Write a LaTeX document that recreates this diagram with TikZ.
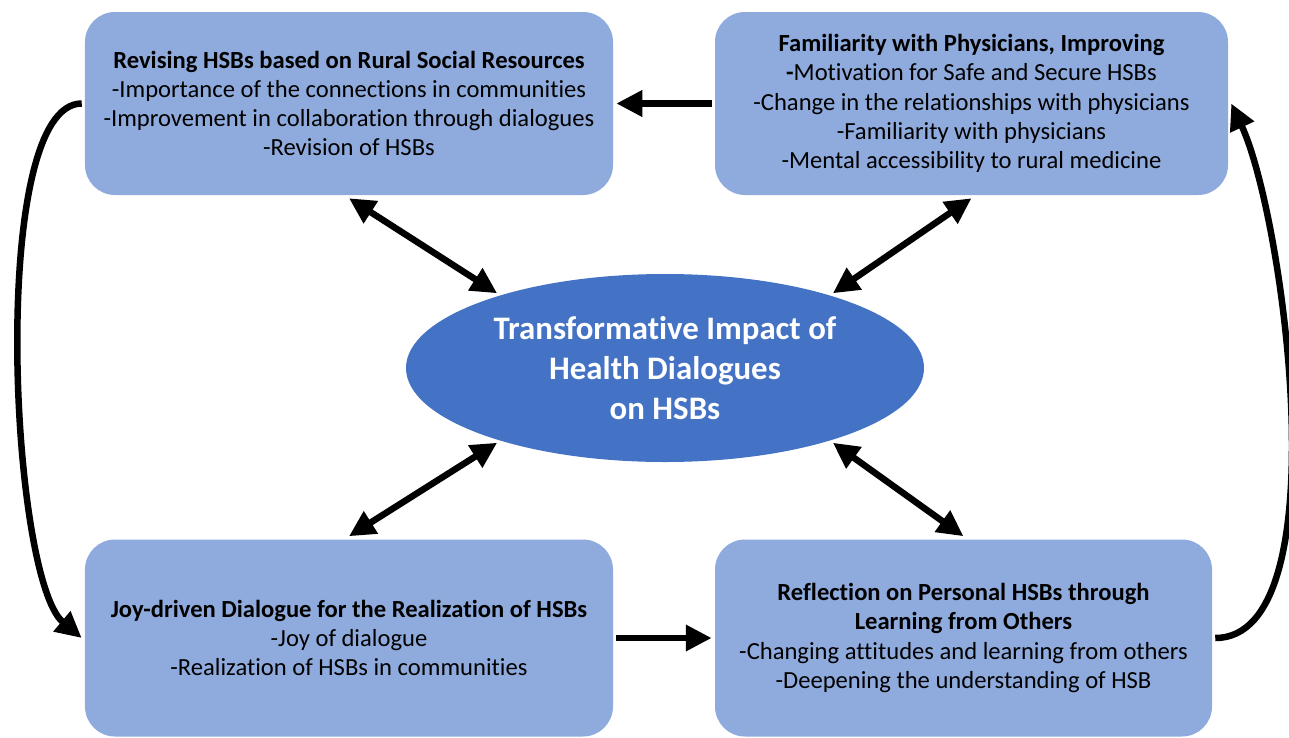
\documentclass[tikz,border=0pt]{standalone}
\usepackage{fontspec}
\setmainfont{Carlito}[Ligatures=NoCommon]
\usetikzlibrary{arrows.meta, shapes.geometric}
\definecolor{themeBlue}{HTML}{8FAADC}
\definecolor{coreBlue}{HTML}{4472C4}
\tikzset{%
  >={Triangle[width=5mm,length=5.2mm]},
  % Specifications for style of nodes:
            base/.style = {rectangle, rounded corners=6mm, fill=themeBlue,
                           draw=none, align=center, inner sep=0pt,
                           font=\fontsize{14}{16.6}\selectfont},
        topTheme/.style = {base, minimum height=3.66cm},
     bottomTheme/.style = {base, minimum height=3.94cm},
          impact/.style = {ellipse, fill=coreBlue, draw=none, inner sep=0pt,
                           minimum width=10.36cm, minimum height=3.76cm,
                           align=center, text=white,
                           font=\fontsize{18.7}{22.8}\selectfont\bfseries},
}

\begin{document}
\begin{tikzpicture}[
    ->,
    line width=3.7pt,
    node distance=6cm]

  \useasboundingbox (-13.3,7.36) rectangle (12.48,-7.38);

  \node(impact)       [impact] at (0,0)                         {Transformative Impact of\\
                                                                  Health Dialogues\\
                                                                  on HSBs};

  \node(revising)     [topTheme, left of=impact, xshift=-0.32cm, yshift=5.29cm,
                       minimum width=10.56cm]                   {\textbf{Revising HSBs based on Rural Social Resources}\\
                                                                  -Importance of the connections in communities\\
                                                                  -Improvement in collaboration through dialogues\\
                                                                  -Revision of HSBs};

  \node(familiarity)  [topTheme, right of=impact, xshift=0.13cm, yshift=5.29cm,
                       minimum width=10.26cm]                   {\textbf{Familiarity with Physicians, Improving}\\
                                                                  \textbf{-}Motivation for Safe and Secure HSBs\\
                                                                  -Change in the relationships with physicians\\
                                                                  -Familiarity with physicians\\
                                                                  -Mental accessibility to rural medicine};

  \node(joyDialogue)  [bottomTheme, left of=impact, xshift=-0.32cm, yshift=-5.4cm,
                       minimum width=10.56cm]                   {\textbf{Joy-driven Dialogue for the Realization of HSBs}\\
                                                                  -Joy of dialogue\\
                                                                  -Realization of HSBs in communities};

  \node(reflection)   [bottomTheme, right of=impact, xshift=-0.03cm, yshift=-5.4cm,
                       minimum width=9.94cm]                    {\textbf{Reflection on Personal HSBs through}\\
                                                                  \textbf{Learning from Others}\\
                                                                  -Changing attitudes and learning from others\\
                                                                  -Deepening the understanding of HSB};

  % links between the themes and the central impact
  \draw[<->]            (revising.south) -- (impact.156);
  \draw[<->]            (familiarity.south) -- (impact.24);
  \draw[<->]            (joyDialogue.north) -- (impact.204);
  \draw[<->]            (reflection.north) -- (impact.336);

  % cycle around the outside
  \draw[->]             (familiarity.west) -- (revising.east);
  \draw[->]             (revising.west) to[out=180, in=140, looseness=0.45] (joyDialogue.west);
  \draw[->]             (joyDialogue.east) -- (reflection.west);
  \draw[->]             (reflection.east) to[out=0, in=-65, looseness=0.6] (familiarity.east);

\end{tikzpicture}
\end{document}
